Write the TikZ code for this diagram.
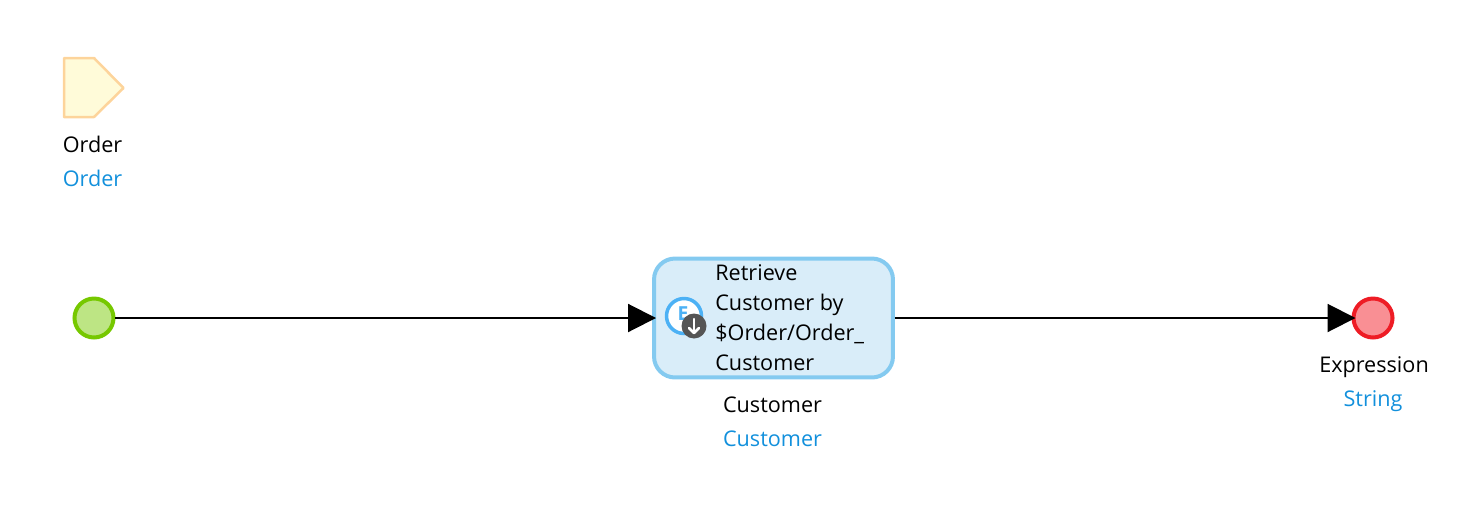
\documentclass[tikz,border=0pt]{standalone}
\usepackage{fontspec}
\setmainfont{Open Sans}
\usetikzlibrary{calc, positioning, arrows.meta}
\definecolor{startfill}{HTML}{BDE584}
\definecolor{startline}{HTML}{76C800}
\definecolor{endfill}{HTML}{F98F94}
\definecolor{endline}{HTML}{EE1C25}
\definecolor{actfill}{HTML}{D9EDF9}
\definecolor{actline}{HTML}{84CAF0}
\definecolor{paramfill}{HTML}{FFFBD9}
\definecolor{paramline}{HTML}{FDD49B}
\definecolor{typeblue}{HTML}{1290DC}
\definecolor{iconblue}{HTML}{4CB1F5}
\definecolor{icongrey}{HTML}{555555}
\tikzset{
  event/.style={circle, draw, line width=0.08cm, minimum size=0.78cm, inner sep=0pt},
  activity/.style={draw=actline, fill=actfill, line width=0.08cm, rounded corners=0.42cm,
    minimum width=4.78cm, minimum height=2.38cm},
  label/.style={font=\fontsize{12.3pt}{15pt}\selectfont, inner sep=0pt, anchor=base},
  bodytext/.style={label, anchor=base west},
  typelabel/.style={label, text=typeblue},
  flow/.style={-{Triangle[length=0.56cm, width=0.56cm]}, line width=0.04cm, shorten >=-0.08cm}
}
\begin{document}
\begin{tikzpicture}[x=0.02cm, y=-0.02cm]
  \useasboundingbox (0,0) rectangle (1480,514);

  % Parameter
  \draw[draw=paramline, fill=paramfill, line width=0.05cm, line join=round]
    (64,58) -- (94,58) -- (123.5,88) -- (94,117) -- (64,117) -- cycle;
  \node[label] (ordername) at (92.5,152) {Order};
  \node[typelabel] (ordertype) at (92.5,186) {Order};

  % Events and activity
  \node[event, draw=startline, fill=startfill] (start) at (94,318) {};
  \node[activity] (retrieve) at (773.5,318) {};
  \node[event, draw=endline, fill=endfill] (stop) at (1373,318) {};

  % Activity text
  \node[bodytext] (line1) at (715,280) {Retrieve};
  \node[bodytext] (line2) at (715,310) {Customer by};
  \node[bodytext] (line3) at (715,340) {\$Order/Order\_};
  \node[bodytext] (line4) at (715,370) {Customer};

  % Activity icon
  \node[circle, draw=iconblue, fill=white, line width=0.07cm, minimum size=0.7cm, inner sep=0pt] (entity) at (684,316) {};
  \node[font=\bfseries\fontsize{11pt}{13pt}\selectfont, text=iconblue, inner sep=0pt] (entityletter) at (683,314) {E};
  \node[circle, fill=icongrey, minimum size=0.5cm, inner sep=0pt] (download) at (694,326) {};
  \coordinate (downtop) at (694,319);
  \coordinate (downtip) at (694,333);
  \draw[white, line width=0.05cm, line cap=round] (downtop) -- (downtip);
  \draw[white, line width=0.05cm, line cap=round, line join=round] (689,328) -- (downtip) -- (699,328);

  % Flows
  \draw[flow] (start) -- (retrieve);
  \draw[flow] (retrieve) -- (stop);

  % Labels
  \node[label] (custname) at (772.5,412) {Customer};
  \node[typelabel] (custtype) at (772.5,446) {Customer};
  \node[label] (exprname) at (1374,372) {Expression};
  \node[typelabel] (exprtype) at (1373,406) {String};

\end{tikzpicture}
\end{document}
